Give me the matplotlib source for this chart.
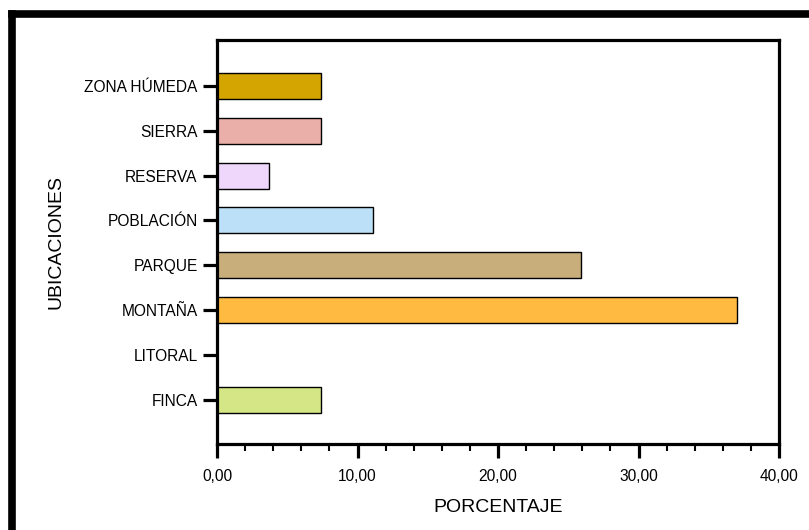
import matplotlib
matplotlib.use("Agg")
import matplotlib.pyplot as plt
from matplotlib.lines import Line2D
from matplotlib.ticker import MultipleLocator, FuncFormatter

categories = ["FINCA", "LITORAL", "MONTAÑA", "PARQUE", "POBLACIÓN", "RESERVA", "SIERRA", "ZONA HÚMEDA"]
values = [7.41, 0.0, 37.04, 25.93, 11.11, 3.70, 7.41, 7.41]
colors = ["#D5E687", "#FFFFFF", "#FFBB41", "#C8AE7A", "#BCE0F7", "#EED7FB", "#EBAFA9", "#D4A500"]

plt.rcParams['font.family'] = ['Liberation Sans', 'DejaVu Sans']

W, H = 809, 530
fig = plt.figure(figsize=(W / 100, H / 100), dpi=100)
ax = fig.add_axes([217 / W, 1 - 444 / H, (779 - 217) / W, (444 - 40) / H])

pos = list(range(len(categories)))
ax.barh(pos, values, height=0.58, color=colors, edgecolor="black", linewidth=1.0)

ax.set_xlim(0, 40)
ax.set_ylim(-0.98, 8.02)
ax.set_yticks(pos)
ax.set_yticklabels(categories)
ax.xaxis.set_major_locator(MultipleLocator(10))
ax.xaxis.set_minor_locator(MultipleLocator(2))
ax.xaxis.set_major_formatter(FuncFormatter(lambda v, p: f"{v:.2f}".replace(".", ",")))

for s in ax.spines.values():
    s.set_linewidth(2.3)
ax.tick_params(axis="x", which="major", direction="out", length=10, width=2.3, labelsize=11.2, pad=8)
ax.tick_params(axis="x", which="minor", direction="out", length=5, width=1.5)
ax.tick_params(axis="y", which="major", direction="out", length=10, width=2.3, labelsize=11.2, pad=4)

ax.set_xlabel("PORCENTAJE", fontsize=14, va="center")
ax.set_ylabel("UBICACIONES", fontsize=14, va="center")
ax.xaxis.set_label_coords(0.5, (444 - 508) / 404)
ax.yaxis.set_label_coords((56 - 217) / 562, 0.499)

# outer frame
fig.add_artist(Line2D([12 / W, 12 / W], [0, 1 - 13.5 / H], transform=fig.transFigure,
                      color="black", linewidth=5.5, solid_capstyle="projecting"))
fig.add_artist(Line2D([12 / W, 1.0], [1 - 13.5 / H, 1 - 13.5 / H], transform=fig.transFigure,
                      color="black", linewidth=5.5, solid_capstyle="projecting"))

fig.savefig("out.png", dpi=100)
